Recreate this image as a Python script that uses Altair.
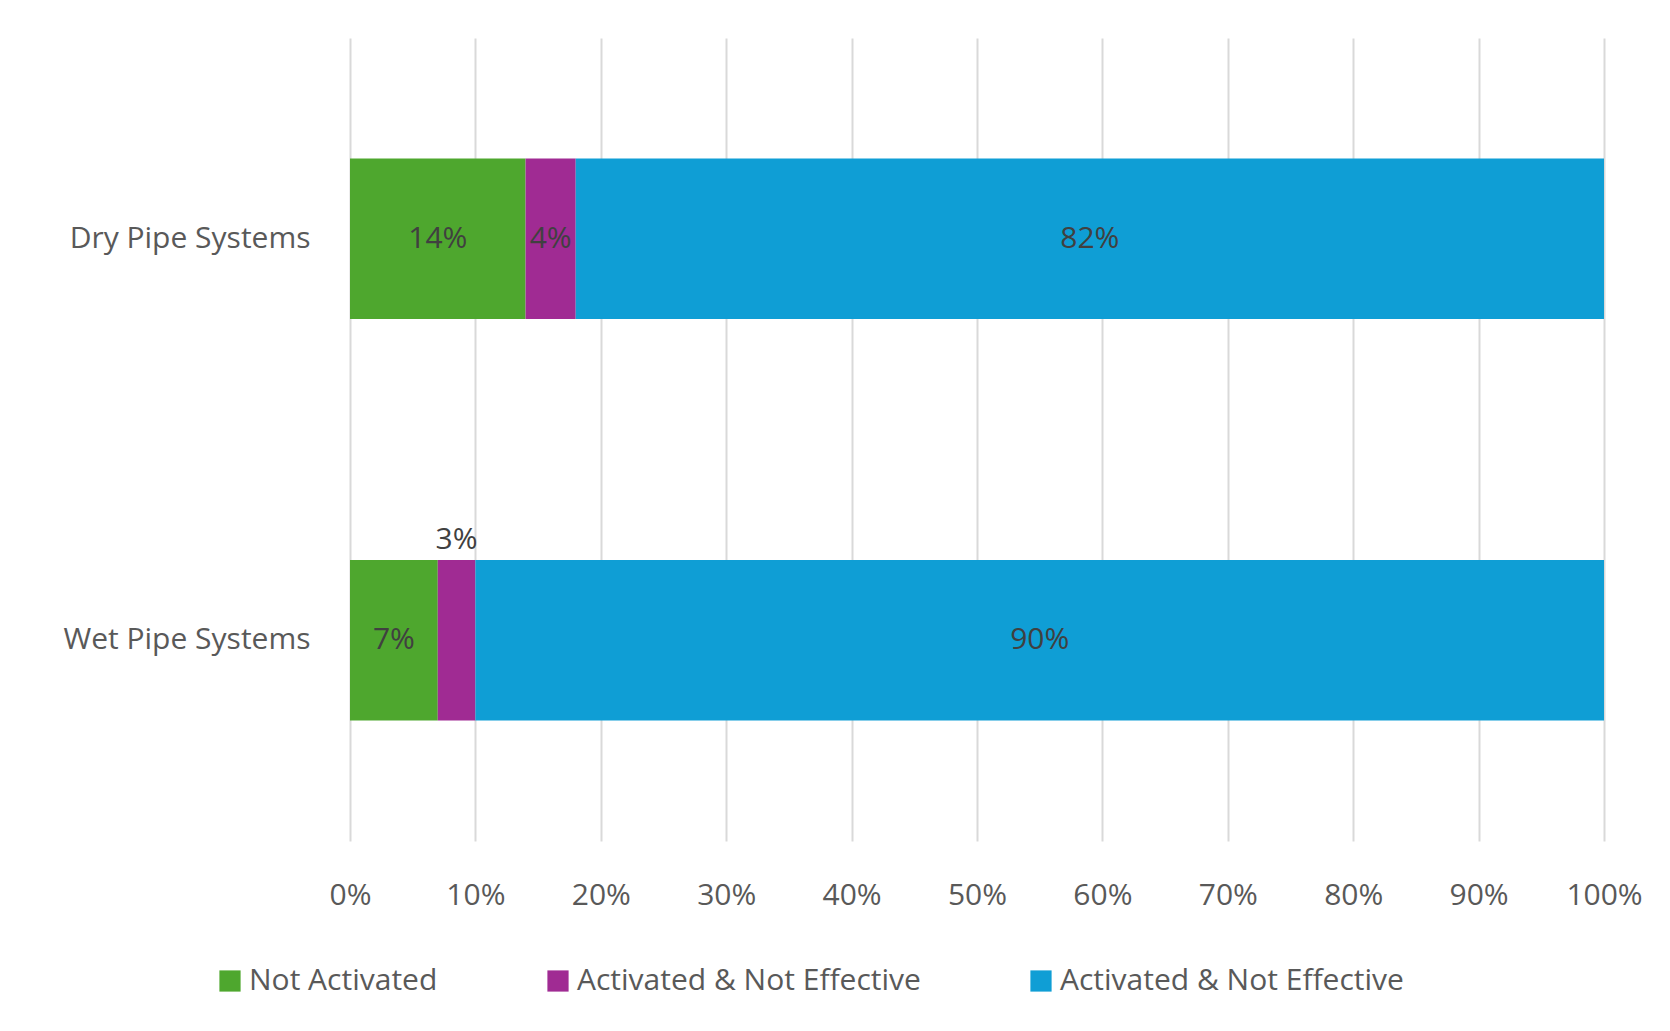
import pandas as pd
import altair as alt

systems = ["Dry Pipe Systems", "Wet Pipe Systems"]
series_keys = ["a", "b", "c"]
series_labels = ["Not Activated", "Activated & Not Effective", "Activated & Not Effective"]
colors = ["#4ea72e", "#a02b93", "#0f9ed5"]
dry_values = [14, 4, 82]
wet_values = [7, 3, 90]

rows = []
for sys_name, vals in zip(systems, [dry_values, wet_values]):
    start = 0
    for k, v in zip(series_keys, vals):
        rows.append({"system": sys_name, "series": k, "start": start, "end": start + v,
                     "mid": start + v / 2, "label": f"{v}%",
                     "outside": sys_name == "Wet Pipe Systems" and k == "b"})
        start += v
df = pd.DataFrame(rows)

label_expr = " : ".join(f"datum.value == '{k}' ? '{l}'" for k, l in zip(series_keys, series_labels)) + " : ''"
FONT = "Open Sans"

y = alt.Y("system:N", sort=systems, title=None,
          scale=alt.Scale(paddingInner=0.6, paddingOuter=0.3),
          axis=alt.Axis(domain=False, ticks=False, labelFontSize=30, labelColor="#595959",
                        labelPadding=40, labelFont=FONT, labelLimit=400))

bars = alt.Chart(df).mark_bar().encode(
    x=alt.X("start:Q", scale=alt.Scale(domain=[0, 100]), title=None,
            axis=alt.Axis(values=list(range(0, 101, 10)), labelExpr="datum.value + '%'",
                          domain=False, ticks=False, grid=True, gridColor="#d9d9d9", gridWidth=2,
                          labelFontSize=30, labelColor="#595959", labelPadding=39,
                          labelFont=FONT, labelFlush=False)),
    x2="end:Q",
    y=y,
    color=alt.Color("series:N", scale=alt.Scale(domain=series_keys, range=colors),
                    legend=alt.Legend(title=None, orient="none", direction="horizontal",
                                      legendX=-135, legendY=928, symbolType="square",
                                      symbolSize=450, symbolStrokeWidth=0, labelFontSize=30,
                                      labelColor="#595959", labelFont=FONT, labelLimit=500,
                                      columnPadding=105, labelExpr=label_expr)),
)

inside = alt.Chart(df).transform_filter("!datum.outside").mark_text(
    fontSize=30, color="#404040", font=FONT).encode(x="mid:Q", y=y, text="label:N")
outside = alt.Chart(df).transform_filter("datum.outside").mark_text(
    fontSize=30, color="#404040", font=FONT, dy=-100).encode(x="mid:Q", y=y, text="label:N")

chart = alt.layer(bars, inside, outside).properties(
    width=1254, height=803, autosize=alt.AutoSizeParams(type="none"),
    padding={"left": 342, "top": 30, "right": 58, "bottom": 182},
).configure_view(stroke=None)

chart.save("out.html", embed_options={"renderer": "svg", "actions": False})
